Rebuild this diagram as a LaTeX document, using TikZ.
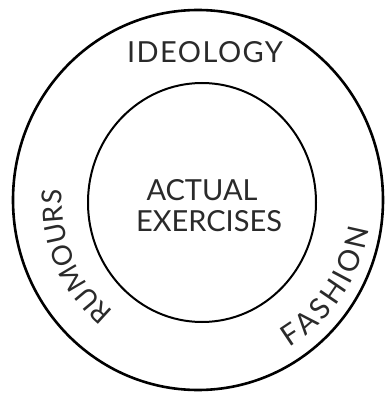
\documentclass[tikz,border=0pt]{standalone}
\usepackage{fontspec}
\setmainfont{Lato}
\newfontfamily\spacedfont{Lato}[LetterSpace=5]
\usetikzlibrary{decorations.text}
\definecolor{ink}{HTML}{2A2A2A}
\newcommand{\labelfont}{\fontsize{29}{34}\selectfont}
\newcommand{\smalllabelfont}{\fontsize{27.5}{32}\selectfont}
\begin{document}
\begin{tikzpicture}[x=1pt,y=1pt,
  ring/.style={draw=black, line width=2.6pt},
  core/.style={draw=black, line width=2pt},
  label/.style={font=\labelfont, text=ink, inner sep=0pt, anchor=base},
  arclabel/.style={decorate, decoration={text along path, text align=center,
     text color=ink, text={|\smalllabelfont|#1}}},
  fitarclabel/.style={decorate, decoration={text along path, text align=fit to path,
     text color=ink, text={|\labelfont|#1}}}
]
\useasboundingbox (0,0) rectangle (390,400);
\coordinate (o) at (198,200);
\coordinate (c) at (202,197.5);
% outer ring and inner core
\draw[ring] (o) ellipse [x radius=185, y radius=190];
\draw[core] (c) ellipse [x radius=114, y radius=119.5];
% labels
\node[label, font=\spacedfont\labelfont] (ideology) at (205,337) {IDEOLOGY};
\node[label] (actual) at (202,200) {ACTUAL};
\node[label] (exercises) at (209,168) {EXERCISES};
% curved labels in the ring
\path[arclabel=RUMOURS] (c) ++(248:140) arc[start angle=248, end angle=158, radius=140];
\path[fitarclabel=FASHION] (c) ++(-59:169) arc[start angle=-59, end angle=-9, radius=169];
\end{tikzpicture}
\end{document}
